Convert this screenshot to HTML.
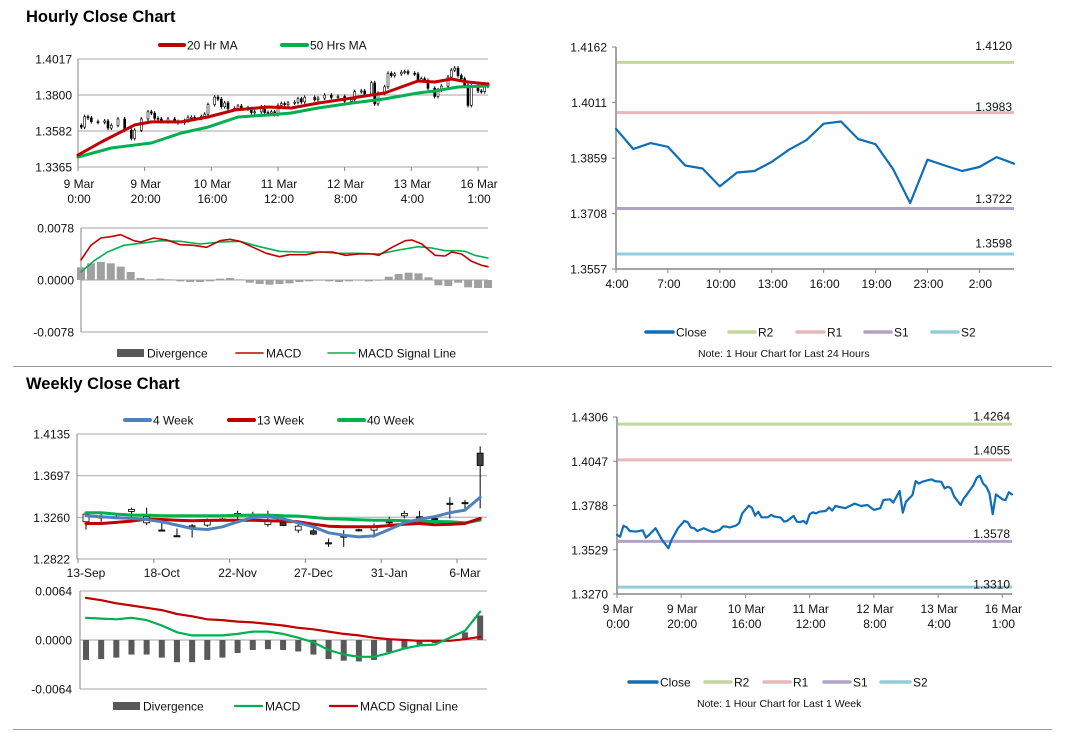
<!DOCTYPE html>
<html><head><meta charset="utf-8">
<style>
html,body{margin:0;padding:0;background:#fff;}
svg{display:block;font-family:"Liberation Sans",Arial,sans-serif;}
</style></head>
<body>
<svg id="root" width="1066" height="733" viewBox="0 0 1066 733" xmlns="http://www.w3.org/2000/svg"></svg>
<script>
const weekHours = [0,1,2,3,4,6,8,9,10,12,14,16,17,19,21,22,23,24,25,27,29,30,32,33,34,35,37,38,39,41,42,43,44,45,47,48,49,51,52,53,55,56,57,58,59,60,61,62,63,65,66,67,68,71,72,74,76,78,80,82,83,85,86,88,89,90,92,93,94,95,97,98,99,101,102,103,104,105,107,108,109,111,112,113,114,115,116,117,118,120,121,122,123];
const weekClose = [1.3616,1.3606,1.3669,1.3661,1.3639,1.3635,1.3643,1.3600,1.3616,1.3655,1.3587,1.3538,1.3587,1.3655,1.3698,1.3690,1.3659,1.3655,1.3639,1.3655,1.3639,1.3632,1.3645,1.3665,1.3665,1.3659,1.3670,1.3684,1.3742,1.3787,1.3775,1.3729,1.3752,1.3719,1.3719,1.3733,1.3723,1.3717,1.3694,1.3698,1.3727,1.3694,1.3690,1.3698,1.3682,1.3737,1.3748,1.3742,1.3752,1.3756,1.3777,1.3758,1.3785,1.3772,1.3781,1.3799,1.3785,1.3791,1.3762,1.3772,1.3820,1.3824,1.3805,1.3873,1.3746,1.3810,1.3849,1.3931,1.3917,1.3927,1.3937,1.3941,1.3931,1.3927,1.3888,1.3898,1.3888,1.3840,1.3791,1.3830,1.3853,1.3908,1.3950,1.3962,1.3917,1.3898,1.3859,1.3737,1.3853,1.3824,1.3820,1.3865,1.3853];
const hourTicks = ["9 Mar|0:00","9 Mar|20:00","10 Mar|16:00","11 Mar|12:00","12 Mar|8:00","13 Mar|4:00","16 Mar|1:00"];
const hourTickHours = [0,20,40,60,80,100,120];
const ma20Hours = [0,7,17,22,31,39,47,57,64,72,82,92,97,102,107,112,117,123];
const ma20 = [1.3437,1.3516,1.3619,1.3637,1.3637,1.3667,1.3709,1.3727,1.3721,1.3751,1.3781,1.3812,1.3848,1.3884,1.3878,1.3896,1.3878,1.3866];
const ma50Hours = [0,10,22,31,39,48,57,64,72,82,92,102,107,114,123];
const ma50 = [1.3425,1.3480,1.3510,1.3570,1.3606,1.3667,1.3679,1.3691,1.3721,1.3751,1.3776,1.3812,1.3824,1.3848,1.3854];
const hMacdHours = [0,3,6,9,12,16,18,22,26,30,34,38,42,45,48,52,56,60,63,68,72,76,80,84,88,90,94,98,100,103,107,110,112,115,118,121,123];
const hMacd = [0.0030,0.0052,0.0063,0.0065,0.0068,0.0059,0.0057,0.0063,0.0060,0.0053,0.0052,0.0049,0.0059,0.0061,0.0058,0.0049,0.0040,0.0035,0.0038,0.0038,0.0042,0.0042,0.0037,0.0039,0.0039,0.0037,0.0049,0.0059,0.0060,0.0054,0.0037,0.0036,0.0042,0.0039,0.0028,0.0022,0.0020];
const hSigHours = [0,4,8,13,18,24,30,36,42,48,54,60,66,72,78,84,90,96,102,106,110,114,116,119,123];
const hSig = [0.0012,0.0029,0.0042,0.0052,0.0055,0.0059,0.0058,0.0054,0.0057,0.0058,0.0050,0.0043,0.0042,0.0042,0.0040,0.0040,0.0039,0.0045,0.0050,0.0048,0.0044,0.0044,0.0043,0.0037,0.0033];
const hDivHours = [0,3,6,9,12,15,18,21,24,27,30,33,36,39,42,45,48,51,54,57,60,63,66,69,72,75,78,81,84,87,90,93,96,99,102,105,108,111,114,117,120,123];
const hDiv = [0.0019,0.0025,0.0027,0.0025,0.0020,0.0012,0.0003,0.0001,0.0002,0.0001,-0.0002,-0.0003,-0.0003,-0.0002,0.0002,0.0003,0.0001,-0.0004,-0.0006,-0.0007,-0.0006,-0.0005,-0.0003,-0.0002,-0.0001,-0.0002,-0.0003,-0.0002,-0.0001,-0.0002,-0.0001,0.0005,0.0009,0.0011,0.0010,0.0004,-0.0008,-0.0009,-0.0004,-0.0011,-0.0012,-0.0012];

const dayLabels = ["4:00","5:00","6:00","7:00","8:00","9:00","10:00","11:00","12:00","13:00","14:00","15:00","16:00","17:00","18:00","19:00","20:00","21:00","23:00","0:00","1:00","2:00","3:00","4:00"];
const dayClose = [1.3939,1.3884,1.3900,1.3890,1.3839,1.3831,1.3782,1.3820,1.3824,1.3849,1.3882,1.3908,1.3953,1.3959,1.3911,1.3897,1.3830,1.3737,1.3855,1.3839,1.3824,1.3835,1.3862,1.3844];
const dayTicks = [1.4162,1.4011,1.3859,1.3708,1.3557];
const dayLevels = [1.4120,1.3983,1.3722,1.3598];
const weekTicks = [1.4306,1.4047,1.3788,1.3529,1.3270];
const weekLevels = [1.4264,1.4055,1.3578,1.3310];

const wkLabels = ["13-Sep","18-Oct","22-Nov","27-Dec","31-Jan","6-Mar"];
const wkLabelIdx = [0,5,10,15,20,25];
const wkOpen = [1.3213,1.3266,1.3266,1.3322,1.3202,1.3127,1.3067,1.3171,1.3178,1.3243,1.3276,1.3277,1.3185,1.3202,1.3125,1.3118,1.2993,1.3063,1.3130,1.3125,1.3213,1.3276,1.3266,1.3248,1.3408,1.3415,1.3934];
const wkClose = [1.3294,1.3262,1.3262,1.3343,1.3266,1.3125,1.3065,1.3153,1.3220,1.3241,1.3301,1.3276,1.3230,1.3174,1.3167,1.3083,1.2991,1.3061,1.3125,1.3160,1.3211,1.3301,1.3262,1.3246,1.3406,1.3413,1.3804];
const wkHigh = [1.3318,1.3318,1.3290,1.3361,1.3361,1.3230,1.3142,1.3188,1.3248,1.3255,1.3329,1.3318,1.3329,1.3230,1.3188,1.3142,1.3037,1.3125,1.3140,1.3195,1.3266,1.3329,1.3329,1.3260,1.3470,1.3442,1.4005];
const wkLow = [1.3132,1.3213,1.3240,1.3248,1.3178,1.3125,1.3065,1.3047,1.3160,1.3230,1.3195,1.3248,1.3160,1.3167,1.3097,1.3072,1.2949,1.2949,1.3110,1.3047,1.3160,1.3248,1.3213,1.3240,1.3248,1.3354,1.3354];
const wk4 = [1.3276,1.3266,1.3255,1.3248,1.3237,1.3213,1.3178,1.3142,1.3132,1.3160,1.3213,1.3259,1.3266,1.3244,1.3202,1.3160,1.3097,1.3072,1.3054,1.3065,1.3132,1.3202,1.3241,1.3266,1.3308,1.3336,1.3470];
const wk13 = [1.3195,1.3195,1.3206,1.3220,1.3241,1.3237,1.3230,1.3223,1.3227,1.3230,1.3230,1.3230,1.3223,1.3220,1.3213,1.3188,1.3167,1.3160,1.3160,1.3160,1.3174,1.3188,1.3195,1.3181,1.3185,1.3195,1.3248];
const wk40 = [1.3308,1.3308,1.3294,1.3283,1.3283,1.3276,1.3276,1.3276,1.3276,1.3276,1.3280,1.3283,1.3283,1.3276,1.3273,1.3259,1.3244,1.3241,1.3234,1.3230,1.3230,1.3223,1.3220,1.3216,1.3213,1.3202,1.3230];
const wkMacd = [0.0029,0.0028,0.0027,0.0029,0.0026,0.0019,0.0010,0.0006,0.0006,0.0006,0.0008,0.0011,0.0011,0.0008,0.0003,-0.0003,-0.0013,-0.0019,-0.0022,-0.0022,-0.0017,-0.0011,-0.0007,-0.0006,0.0003,0.0012,0.0037];
const wkSig = [0.0055,0.0052,0.0048,0.0045,0.0042,0.0039,0.0034,0.0031,0.0027,0.0026,0.0024,0.0023,0.0021,0.0019,0.0016,0.0014,0.0011,0.0008,0.0006,0.0003,0.0001,0.0000,-0.0001,-0.0001,-0.0001,0.0001,0.0004];
const wkDiv = [-0.0026,-0.0025,-0.0023,-0.0019,-0.0019,-0.0023,-0.0029,-0.0029,-0.0026,-0.0023,-0.0017,-0.0013,-0.0012,-0.0013,-0.0015,-0.0019,-0.0025,-0.0027,-0.0028,-0.0026,-0.0016,-0.0010,-0.0006,-0.0004,-0.0001,0.0010,0.0032];

const NS = "http://www.w3.org/2000/svg";
const root = document.getElementById('root');
function mk(tag, attrs, parent, text){
  const e = document.createElementNS(NS, tag);
  for (const k in attrs) e.setAttribute(k, attrs[k]);
  if (text !== undefined) e.textContent = text;
  (parent || root).appendChild(e);
  return e;
}
function lin(d0,d1,r0,r1){ return v => r0 + (v-d0)*(r1-r0)/(d1-d0); }
function grp(name){ const g = mk('g', {}, root);
  
  
  return g; }
function txt(g, x, y, s, opts){
  const o = Object.assign({x:x, y:y, 'font-size':12, fill:'#111'}, opts||{});
  return mk('text', o, g, s);
}
function poly(g, xs, ys, color, w, name){
  let d = '';
  for (let i=0;i<xs.length;i++) d += (i?'L':'M') + xs[i].toFixed(1) + ' ' + ys[i].toFixed(1);
  const p = mk('path', {d:d, fill:'none', stroke:color, 'stroke-width':w, 'stroke-linejoin':'round', 'stroke-linecap':'round'}, g);
  
  
  return p;
}
function legendLine(g, x1, x2, y, color, w, label, name){
  const it = mk('g', {}, g);
  
  
  mk('line', {x1:x1, x2:x2, y1:y, y2:y, stroke:color, 'stroke-width':w, 'stroke-linecap':'round'}, it);
  txt(it, x2+3, y+4.5, label);
}
function legendBox(g, x1, x2, y, label, name){
  const it = mk('g', {}, g);
  
  
  mk('rect', {x:x1, y:y-4, width:x2-x1, height:8, fill:'#595959'}, it);
  txt(it, x2+3, y+4.5, label);
}
const GRID = '#a6a6a6', AX = '#868686';

const t1 = txt(root, 26, 22, 'Hourly Close Chart', {'font-size':16.5, 'font-weight':'bold', fill:'#000'});
 
const t2 = txt(root, 26, 389, 'Weekly Close Chart', {'font-size':16.5, 'font-weight':'bold', fill:'#000'});
 
const s1 = mk('line', {x1:13, x2:1052, y1:366.5, y2:366.5, stroke:'#999', 'stroke-width':1});
 
const s2 = mk('line', {x1:13, x2:1052, y1:729.5, y2:729.5, stroke:'#999', 'stroke-width':1});
 

(function(){
  const g = grp('hourly-candle-chart');
  const X = lin(0,123,78,488), Y = lin(1.3365,1.4017,167,59);
  [1.4017,1.3800,1.3582,1.3365].forEach(v=>{
    mk('line',{x1:78,x2:488,y1:Y(v),y2:Y(v),stroke:GRID,'stroke-width':1},g);
    txt(g, 72, Y(v)+4.5, v.toFixed(4), {'text-anchor':'end'});
  });
  mk('line',{x1:78,x2:78,y1:59,y2:167,stroke:AX},g);
  hourTickHours.forEach((h,i)=>{
    const x = X(h);
    mk('line',{x1:x,x2:x,y1:167,y2:171,stroke:AX},g);
    const p = hourTicks[i].split('|');
    txt(g, x+1, 188, p[0], {'text-anchor':'middle'});
    txt(g, x+1, 203, p[1], {'text-anchor':'middle'});
  });
  for (let i=1;i<weekHours.length;i++){
    const o = weekClose[i-1], c = weekClose[i];
    const x = X(weekHours[i]);
    const top = Y(Math.max(o,c)), bot = Y(Math.min(o,c));
    const cg = mk('g',{},g);
    
    
    mk('line',{x1:x,x2:x,y1:top-2,y2:bot+2,stroke:'#000','stroke-width':1},cg);
    mk('rect',{x:x-1,y:top,width:2,height:Math.max(1,bot-top),fill:c>=o?'#fff':'#000',stroke:'#000','stroke-width':0.6},cg);
  }
  poly(g, ma50Hours.map(X), ma50.map(Y), '#00b050', 3, 'ma50-line');
  poly(g, ma20Hours.map(X), ma20.map(Y), '#c00000', 3, 'ma20-line');
  const lg = grp('hourly-legend');
  legendLine(lg, 160, 184, 45, '#c00000', 4, '20 Hr MA', 'legend-ma20');
  legendLine(lg, 282, 307, 45, '#00b050', 4, '50 Hrs MA', 'legend-ma50');
})();

(function(){
  const g = grp('hourly-macd-chart');
  const X = lin(0,123,81,488), Y = lin(-0.0078,0.0078,332,228);
  [0.0078,0,-0.0078].forEach(v=>{
    mk('line',{x1:81,x2:488,y1:Y(v),y2:Y(v),stroke:GRID},g);
    txt(g, 74, Y(v)+4.5, v.toFixed(4), {'text-anchor':'end'});
  });
  mk('line',{x1:81,x2:81,y1:228,y2:332,stroke:AX},g);
  hDiv.forEach((v,i)=>{
    const b = mk('rect',{x:X(hDivHours[i])-4,y:Math.min(Y(v),Y(0)),width:8,height:Math.abs(Y(v)-Y(0)),fill:'#a0a0a0'},g);
    
    
  });
  poly(g, hSigHours.map(X), hSig.map(Y), '#00b050', 1.6, 'signal-line');
  poly(g, hMacdHours.map(X), hMacd.map(Y), '#c00000', 1.6, 'macd-line');
  const lg = grp('hourly-macd-legend');
  legendBox(lg, 117, 144, 353, 'Divergence', 'legend-divergence');
  legendLine(lg, 236, 263, 353, '#c00000', 1.6, 'MACD', 'legend-macd');
  legendLine(lg, 328, 355, 353, '#00b050', 1.6, 'MACD Signal Line', 'legend-signal');
})();

function pivotChart(name, x0, x1, y0, y1, ticks, levels, labOff, xsFn, closeYs, xTicks, legendY, legendXs, note, noteX){
  const g = grp(name);
  const Y = lin(ticks[ticks.length-1], ticks[0], y1, y0);
  mk('line',{x1:x0,x2:x0,y1:y0,y2:y1,stroke:AX,'stroke-width':1.5},g);
  mk('line',{x1:x0,x2:x1,y1:y1,y2:y1,stroke:AX,'stroke-width':1.5},g);
  ticks.forEach(v=>{
    mk('line',{x1:x0-4,x2:x0,y1:Y(v),y2:Y(v),stroke:AX},g);
    txt(g, x0-9, Y(v)+4.5, v.toFixed(4), {'text-anchor':'end'});
  });
  xTicks.forEach(t=>{
    mk('line',{x1:t.x,x2:t.x,y1:y1,y2:y1+4,stroke:AX},g);
    t.lines.forEach((s,k)=>txt(g, t.x+1, y1+19+k*15, s, {'text-anchor':'middle'}));
  });
  const cols = ['#c3d69b','#e6b9b8','#b3a2c7','#93cddd'];
  const names = ['r2-line','r1-line','s1-line','s2-line'];
  levels.forEach((v,i)=>{
    const l = mk('line',{x1:x0+1,x2:x1,y1:Y(v),y2:Y(v),stroke:cols[i],'stroke-width':3},g);
    
    
    txt(g, x1-2, Y(v)-labOff[i]+4.5, v.toFixed(4), {'text-anchor':'end'});
  });
  poly(g, xsFn(), closeYs.map(Y), '#0e6eb8', 2.2, 'close-line');
  const lg = grp(name+'-legend');
  const labs = ['Close','R2','R1','S1','S2'];
  const lc = ['#0e6eb8'].concat(cols);
  legendXs.forEach((p,i)=>legendLine(lg, p[0], p[1], legendY, lc[i], 3.5, labs[i], 'legend-'+labs[i].toLowerCase()));
  const n = txt(lg, noteX, legendY+25, note, {'font-size':10.5});
   
}
(function(){
  const X = lin(0, dayLabels.length-1, 616, 1014);
  const xt = [];
  for (let i=0;i<dayLabels.length-1;i+=3) xt.push({x:X(i), lines:[dayLabels[i]]});
  pivotChart('day-pivot-chart', 616, 1014, 47, 269, dayTicks, dayLevels, [17,6,10,11],
    ()=>dayClose.map((v,i)=>X(i)), dayClose, xt, 332,
    [[646,673],[729,755],[797,824],[865,891],[932,958]], 'Note: 1 Hour Chart for Last 24 Hours', 698);
})();
(function(){
  const X = lin(0,123,617,1012);
  const xt = hourTickHours.map((h,i)=>({x:X(h), lines:hourTicks[i].split('|')}));
  pivotChart('week-pivot-chart', 617, 1012, 417, 594, weekTicks, weekLevels, [8,10,8,3],
    ()=>weekHours.map(X), weekClose, xt, 682,
    [[629,657],[705,731],[764,790],[824,850],[881,910]], 'Note: 1 Hour Chart for  Last 1 Week', 697);
})();

(function(){
  const g = grp('weekly-candle-chart');
  const X = lin(0,25,86,465), Y = lin(1.2822,1.4135,559,434);
  [1.4135,1.3697,1.3260,1.2822].forEach(v=>{
    mk('line',{x1:77,x2:487,y1:Y(v),y2:Y(v),stroke:GRID},g);
    txt(g, 70, Y(v)+4.5, v.toFixed(4), {'text-anchor':'end'});
  });
  mk('line',{x1:77,x2:77,y1:434,y2:559,stroke:AX},g);
  wkLabels.forEach((s,i)=>{
    const x = X(wkLabelIdx[i]) - 8;
    mk('line',{x1:x,x2:x,y1:559,y2:563,stroke:AX},g);
    txt(g, X(wkLabelIdx[i]), 577, s, {'text-anchor':'middle'});
  });
  wkOpen.forEach((o,i)=>{
    const c = wkClose[i], x = X(i);
    const cg = mk('g',{},g);
    
    
    mk('line',{x1:x,x2:x,y1:Y(wkHigh[i]),y2:Y(wkLow[i]),stroke:'#000','stroke-width':1},cg);
    const top = Y(Math.max(o,c)), bot = Y(Math.min(o,c));
    mk('rect',{x:x-3,y:top,width:6,height:Math.max(1.2,bot-top),fill:c>=o?'#fff':'#404040',stroke:'#000','stroke-width':0.8},cg);
  });
  const xs = wk4.map((v,i)=>X(i));
  poly(g, xs, wk40.map(Y), '#00b050', 3, 'ma40-week-line');
  poly(g, xs, wk13.map(Y), '#c00000', 3, 'ma13-week-line');
  poly(g, xs, wk4.map(Y), '#4f81bd', 3, 'ma4-week-line');
  const lg = grp('weekly-legend');
  legendLine(lg, 125, 150, 420, '#4f81bd', 4, '4 Week', 'legend-4-week');
  legendLine(lg, 229, 254, 420, '#c00000', 4, '13 Week', 'legend-13-week');
  legendLine(lg, 339, 364, 420, '#00b050', 4, '40 Week', 'legend-40-week');
})();

(function(){
  const g = grp('weekly-macd-chart');
  const X = lin(0,25,86,465), Y = lin(-0.0064,0.0064,689,591);
  [0.0064,0,-0.0064].forEach(v=>{
    mk('line',{x1:80,x2:487,y1:Y(v),y2:Y(v),stroke:GRID},g);
    txt(g, 72, Y(v)+4.5, v.toFixed(4), {'text-anchor':'end'});
  });
  mk('line',{x1:80,x2:80,y1:591,y2:689,stroke:AX},g);
  wkDiv.forEach((v,i)=>{
    const b = mk('rect',{x:X(i)-3,y:Math.min(Y(v),Y(0)),width:6,height:Math.abs(Y(v)-Y(0)),fill:'#595959'},g);
    
    
  });
  const xs = wkMacd.map((v,i)=>X(i));
  poly(g, xs, wkSig.map(Y), '#c00000', 2.2, 'weekly-signal-line');
  poly(g, xs, wkMacd.map(Y), '#00b050', 2.2, 'weekly-macd-line');
  const lg = grp('weekly-macd-legend');
  legendBox(lg, 113, 140, 706, 'Divergence', 'legend-weekly-divergence');
  legendLine(lg, 235, 262, 706, '#00b050', 2.2, 'MACD', 'legend-weekly-macd');
  legendLine(lg, 330, 357, 706, '#c00000', 2.2, 'MACD Signal Line', 'legend-weekly-signal');
})();
</script>
</body></html>
